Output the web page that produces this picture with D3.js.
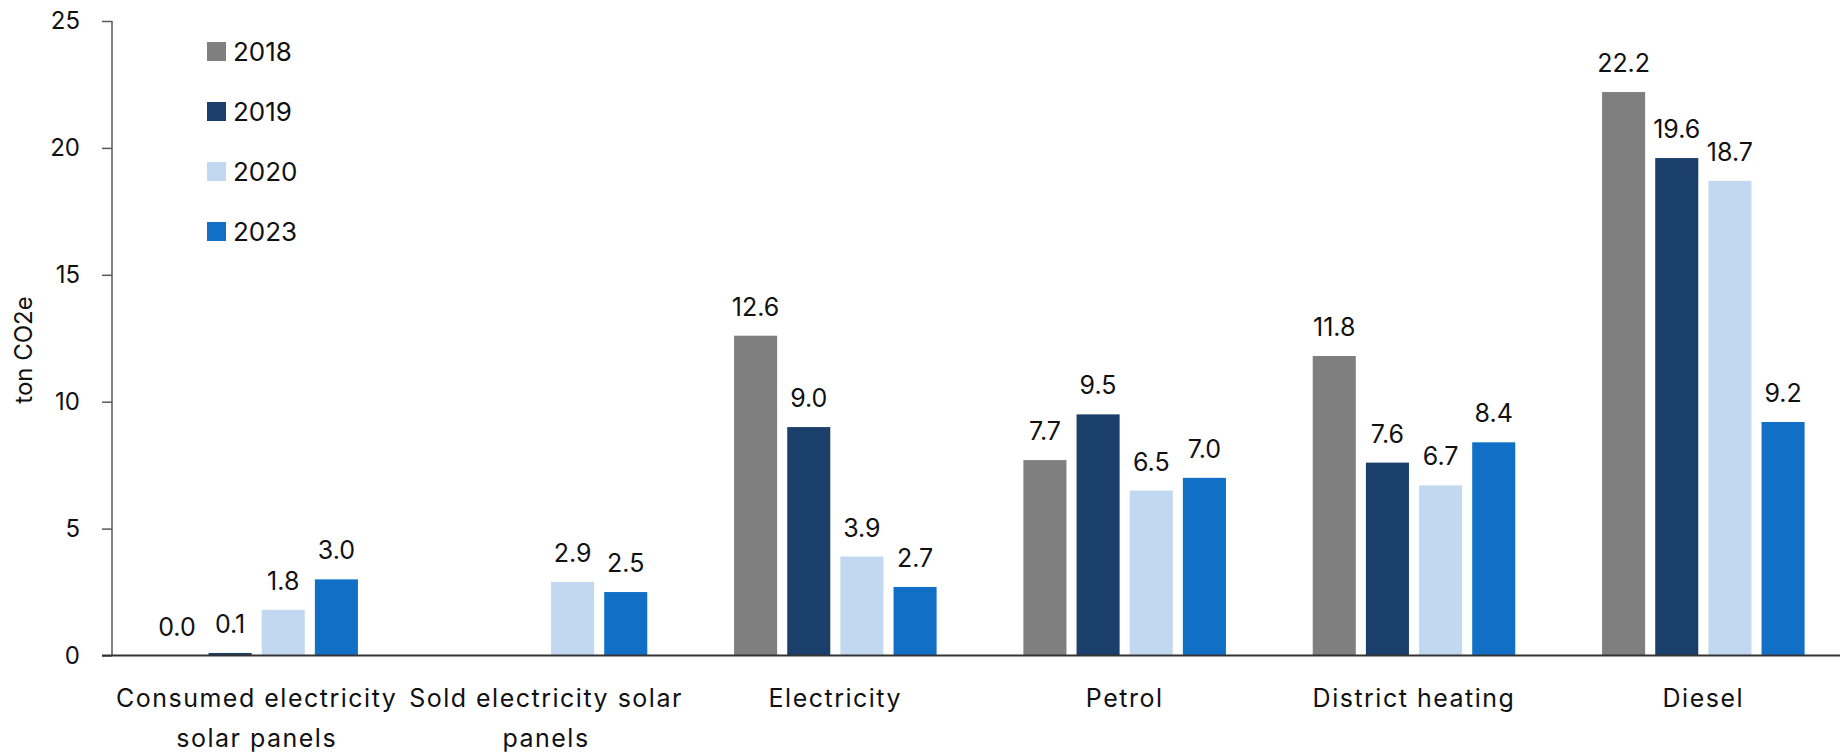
<!DOCTYPE html>
<html>
<head>
<meta charset="utf-8">
<script src="https://cdn.jsdelivr.net/npm/d3@7"></script>
<style>
  body { margin: 0; background: #fff; }
  svg { display: block; }
  text { font-family: Inter, "Noto Sans", sans-serif; fill: #111; }
</style>
</head>
<body>
<svg id="chart" width="1840" height="754"></svg>
<script>
// Emissions per source, ton CO2e
const categories = [
  "Consumed electricity solar panels",
  "Sold electricity solar panels",
  "Electricity",
  "Petrol",
  "District heating",
  "Diesel"
];
const seriesNames = ["2018", "2019", "2020", "2023"];
const values2018 = [0.0, null, 12.6, 7.7, 11.8, 22.2];
const values2019 = [0.1, null, 9.0, 9.5, 7.6, 19.6];
const values2020 = [1.8, 2.9, 3.9, 6.5, 6.7, 18.7];
const values2023 = [3.0, 2.5, 2.7, 7.0, 8.4, 9.2];
const yTicks = [0, 5, 10, 15, 20, 25];
const yTitle = "ton CO2e";

const seriesValues = [values2018, values2019, values2020, values2023];
const colors = ["#7f7f7f", "#1a3f6b", "#c2d8f0", "#1170c6"];

const svg = d3.select("#chart");
const plot = { left: 112, right: 1848, top: 21, bottom: 655.5 };

const y = d3.scaleLinear().domain([0, 25]).range([plot.bottom, plot.top]);
const x0 = d3.scaleBand().domain(categories)
  .range([plot.left, plot.right]).paddingInner(0.3).paddingOuter(0.15);
const x1 = d3.scaleBand().domain(seriesNames)
  .range([0, x0.bandwidth()]).paddingInner(0.19).paddingOuter(0);
const color = d3.scaleOrdinal().domain(seriesNames).range(colors);

const rows = categories.map((c, i) => ({
  category: c,
  items: seriesNames.map((s, j) => ({ series: s, value: seriesValues[j][i] }))
}));

// Bars
const groups = svg.append("g").selectAll("g").data(rows).join("g")
  .attr("transform", d => `translate(${x0(d.category)},0)`);

groups.selectAll("rect")
  .data(d => d.items.filter(v => v.value !== null))
  .join("rect")
  .attr("x", d => x1(d.series))
  .attr("width", x1.bandwidth())
  .attr("y", d => y(d.value))
  .attr("height", d => y(0) - y(d.value))
  .attr("fill", d => color(d.series));

// Value labels
groups.selectAll("text.val")
  .data(d => d.items.filter(v => v.value !== null))
  .join("text")
  .attr("class", "val")
  .attr("x", d => x1(d.series) + x1.bandwidth() / 2)
  .attr("y", d => y(d.value) - 20)
  .attr("text-anchor", "middle")
  .style("font-size", "25px")
  .text(d => d3.format(".1f")(d.value));

// Y axis
const yAxis = svg.append("g")
  .attr("transform", `translate(${plot.left},0)`)
  .call(d3.axisLeft(y).tickValues(yTicks).tickSize(10).tickPadding(22).tickFormat(d3.format("d")));
yAxis.select(".domain").attr("stroke", "#595959").attr("stroke-width", 1.5)
  .attr("d", `M0,${plot.top}V${plot.bottom}`);
yAxis.selectAll(".tick line").attr("stroke", "#595959").attr("stroke-width", 1.5);
yAxis.selectAll(".tick text")
  .style("font-size", "24px").style("font-family", "Inter, sans-serif").attr("fill", "#111");

// X axis baseline
svg.append("line")
  .attr("x1", plot.left - 10).attr("x2", 1840)
  .attr("y1", y(0)).attr("y2", y(0))
  .attr("stroke", "#333").attr("stroke-width", 2);

// Category labels, wrapped to the band step
const catLabels = svg.append("g").selectAll("text").data(categories).join("text")
  .attr("text-anchor", "middle")
  .attr("x", d => x0(d) + x0.bandwidth() / 2)
  .attr("y", plot.bottom + 51.5)
  .style("font-size", "25px")
  .style("letter-spacing", "1.5px");

catLabels.each(function (d) {
  const el = d3.select(this);
  const words = d.split(" ");
  const maxW = x0.step() * 1.07;
  let line = [];
  let tspan = el.append("tspan").attr("x", el.attr("x")).attr("dy", 0);
  words.forEach(w => {
    line.push(w);
    tspan.text(line.join(" "));
    if (tspan.node().getComputedTextLength() > maxW && line.length > 1) {
      line.pop();
      tspan.text(line.join(" "));
      line = [w];
      tspan = el.append("tspan").attr("x", el.attr("x")).attr("dy", 40).text(w);
    }
  });
});

// Y axis title
svg.append("text")
  .attr("transform", "translate(32,350) rotate(-90)")
  .attr("text-anchor", "middle")
  .style("font-size", "24px")
  .text(yTitle);

// Legend
const legend = svg.append("g").selectAll("g").data(seriesNames).join("g")
  .attr("transform", (d, i) => `translate(207,${42 + i * 60})`);
legend.append("rect").attr("width", 19).attr("height", 19).attr("fill", d => color(d));
legend.append("text").attr("x", 26).attr("y", 9.5).attr("dy", "0.36em")
  .style("font-size", "26px").text(d => d);
</script>
</body>
</html>
